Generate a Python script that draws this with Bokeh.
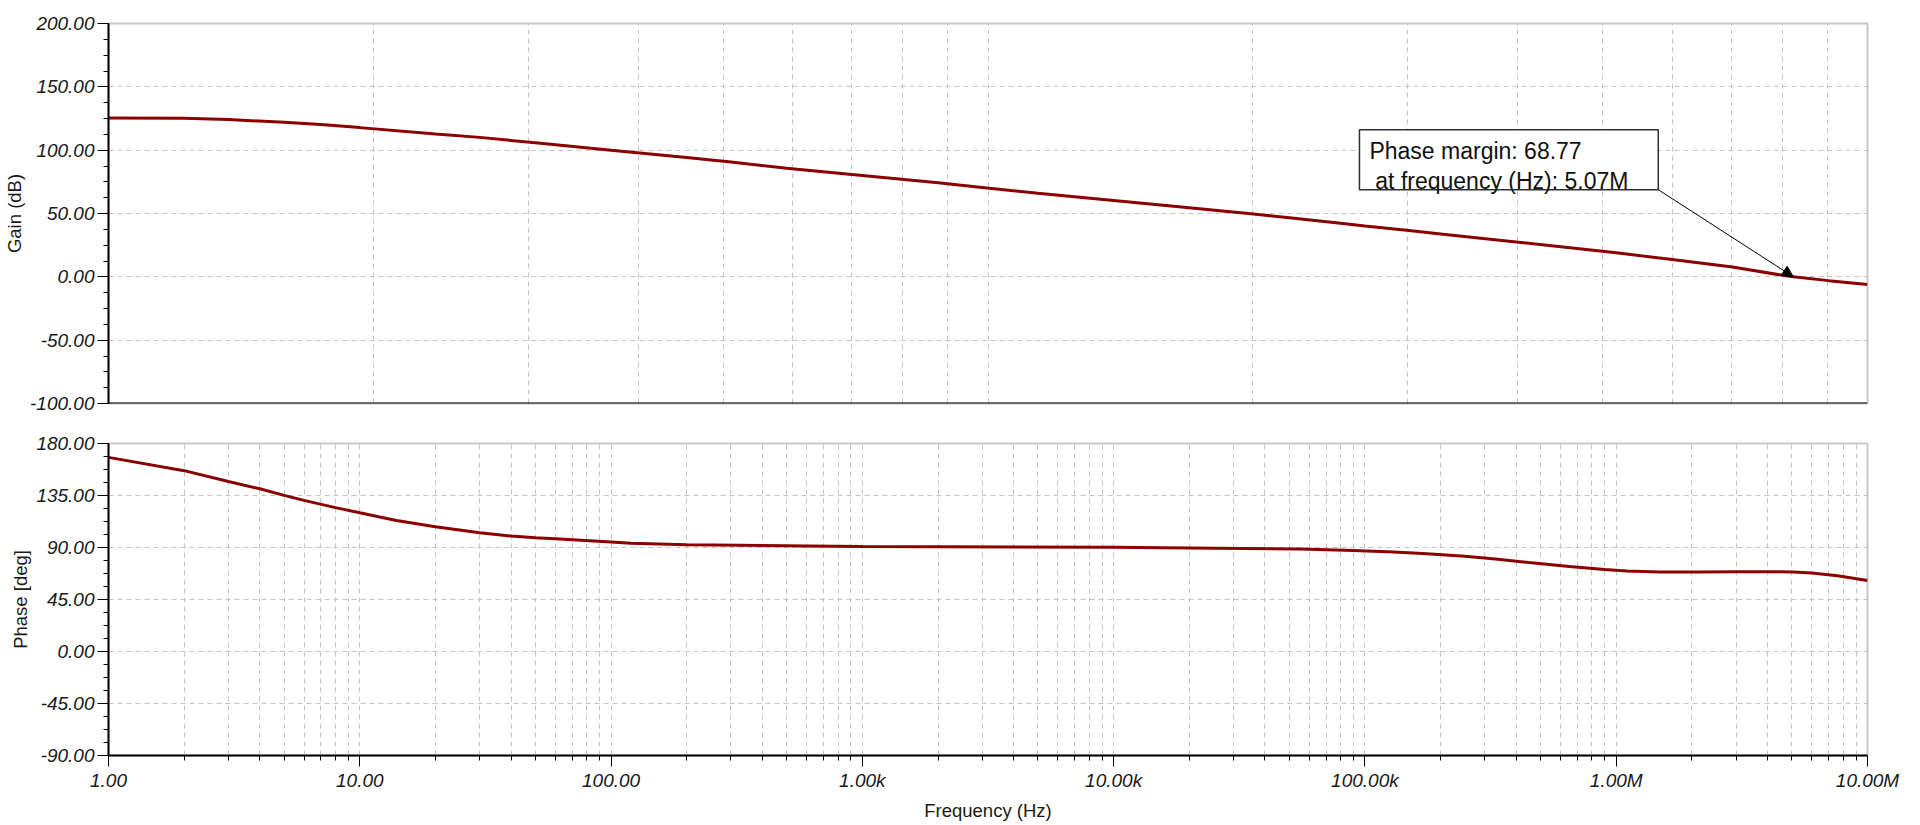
from bokeh.plotting import figure
from bokeh.layouts import column
from bokeh.models import (Range1d, FixedTicker, SingleIntervalTicker, NumeralTickFormatter,
                          CustomJSTickFormatter, BoxAnnotation, Label, Arrow, NormalHead, Span)
from bokeh.embed import file_html
from bokeh.resources import INLINE

# ---------------- data ----------------
gain_freq = [1, 2, 3, 5, 7, 10, 20, 30, 50, 100, 200, 300, 500, 1e3, 2e3, 3e3, 5e3,
             1e4, 2e4, 3.6e4, 5e4, 8e4, 1e5, 1.5e5, 2e5, 4e5, 1e6, 1.7e6, 2.9e6,
             4.6e6, 5.07e6, 7e6, 1e7]
gain_db = [125.4, 125.2, 124.2, 122.0, 120.3, 117.8, 112.7, 110.1, 105.8, 100.0, 94.3,
           90.6, 85.8, 80.0, 74.2, 70.6, 66.0, 60.3, 54.5, 49.6, 46.6, 42.3, 40.2, 36.5,
           33.9, 27.5, 19.0, 13.4, 7.8, 1.2, 0.0, -3.0, -6.0]

phase_freq = [1, 2, 3, 4, 5, 6, 8, 10, 12, 14, 20, 30, 40, 50, 60, 100, 120, 200, 600,
              1e3, 1e4, 2e4, 5.5e4, 9e4, 1.3e5, 1.7e5, 2.1e5, 2.5e5, 3.3e5, 4.5e5, 6.5e5,
              9e5, 1.1e6, 1.5e6, 2.1e6, 3e6, 4e6, 5.07e6, 6e6, 7.6e6, 1e7]
phase_deg = [168.0, 156.5, 147.1, 140.8, 135.1, 130.8, 124.5, 120.0, 116.4, 113.4, 107.9,
             102.7, 99.9, 98.4, 97.5, 94.7, 93.6, 92.4, 91.3, 90.8, 90.3, 89.6, 88.6, 87.4,
             86.0, 84.8, 83.6, 82.4, 80.0, 77.0, 73.6, 71.0, 69.6, 68.8, 68.8, 69.1, 69.1,
             68.77, 67.9, 65.6, 61.5]

x_major_ticks = [1, 10, 100, 1e3, 1e4, 1e5, 1e6, 1e7]
x_minor_ticks = [m * d for d in [1, 10, 100, 1e3, 1e4, 1e5, 1e6] for m in range(2, 10)]
# the gain pane's vertical grid is a 2-decade log grid stretched over the 7-decade axis
gain_grid_steps = list(range(2, 10)) + list(range(10, 100, 10))
gain_grid_ticks = [k ** 3.5 for k in gain_grid_steps]

pm_value = 68.77
pm_freq = 5.07e6
pm_gain = 0.0

FONT = "Liberation Sans"
TXT = "#1a1a1a"
TRACE = "#8b0000"
GRID = "#c4c4c4"


def style_axis(ax):
    ax.axis_line_color = "black"
    ax.axis_line_width = 2
    ax.major_tick_line_color = "black"
    ax.minor_tick_line_color = "black"
    ax.major_tick_in = 0
    ax.minor_tick_in = 0
    ax.major_tick_out = 11
    ax.minor_tick_out = 5
    ax.major_label_text_font = FONT
    ax.major_label_text_font_size = "19px"
    ax.major_label_text_font_style = "italic"
    ax.major_label_text_color = TXT
    ax.major_label_standoff = 3
    ax.axis_label_text_font = FONT
    ax.axis_label_text_font_size = "18.5px"
    ax.axis_label_text_font_style = "normal"
    ax.axis_label_text_color = TXT
    ax.axis_label_standoff = 2


def style(p):
    p.background_fill_color = "white"
    p.border_fill_color = "white"
    p.outline_line_color = "#c8c8c8"
    p.outline_line_width = 2
    for g in (p.xgrid[0], p.ygrid[0]):
        g.grid_line_color = GRID
        g.grid_line_dash = "5 4"
        g.grid_line_width = 1


# ---------------- gain pane ----------------
p1 = figure(width=1918, height=423, x_axis_type="log",
            x_range=Range1d(1, 1e7), y_range=Range1d(-100, 200),
            output_backend="svg", toolbar_location=None,
            min_border_left=108, min_border_right=51, min_border_top=23, min_border_bottom=20)
style(p1)
style_axis(p1.yaxis[0])
p1.yaxis.axis_label = "Gain (dB)"
p1.yaxis.ticker = SingleIntervalTicker(interval=50, num_minor_ticks=4)
p1.yaxis.formatter = NumeralTickFormatter(format="0.00")
p1.xaxis.ticker = FixedTicker(ticks=gain_grid_ticks, minor_ticks=[])
p1.xaxis.visible = False
p1.add_layout(Span(location=-100, dimension="width", line_color="black", line_width=2))
p1.line(gain_freq, gain_db, line_color=TRACE, line_width=3)

box = BoxAnnotation(left=9.51e4, right=1.47e6, bottom=68.8, top=116.1,
                    fill_color="white", fill_alpha=1.0, line_color="#303030", line_alpha=1.0,
                    line_width=1.5, level="overlay")
p1.add_layout(box)
p1.add_layout(Label(x=1.042e5, y=99.0, text=f"Phase margin: {pm_value:.2f}",
                    text_font=FONT, text_font_size="23px", text_color="#111111",
                    text_align="left", text_baseline="alphabetic", level="overlay"))
p1.add_layout(Label(x=1.10e5, y=75.4, text=f"at frequency (Hz): {pm_freq / 1e6:.2f}M",
                    text_font=FONT, text_font_size="23px", text_color="#111111",
                    text_align="left", text_baseline="alphabetic", level="overlay"))
p1.add_layout(Arrow(end=NormalHead(size=11, fill_color="black", line_color="black"),
                    x_start=1.47e6, y_start=68.8, x_end=pm_freq, y_end=pm_gain,
                    line_color="black", line_width=1, level="overlay"))

# ---------------- phase pane ----------------
p2 = figure(width=1918, height=400, x_axis_type="log",
            x_range=p1.x_range, y_range=Range1d(-90, 180),
            output_backend="svg", toolbar_location=None,
            min_border_left=108, min_border_right=51, min_border_top=20, min_border_bottom=66)
style(p2)
style_axis(p2.yaxis[0])
style_axis(p2.xaxis[0])
p2.yaxis.axis_label = "Phase [deg]"
p2.xaxis.axis_label = "Frequency (Hz)"
p2.yaxis.ticker = SingleIntervalTicker(interval=45, num_minor_ticks=4)
p2.yaxis.formatter = NumeralTickFormatter(format="0.00")
p2.xaxis.ticker = FixedTicker(ticks=x_major_ticks, minor_ticks=x_minor_ticks)
p2.xaxis.formatter = CustomJSTickFormatter(code="""
    const v = tick;
    if (v >= 1e6) return (v / 1e6).toFixed(2) + "M";
    if (v >= 1e3) return (v / 1e3).toFixed(2) + "k";
    return v.toFixed(2);
""")
p2.xaxis.major_label_text_align = "left"
p2.xaxis.axis_label_standoff = 6
p2.xgrid.minor_grid_line_color = GRID
p2.xgrid.minor_grid_line_dash = "5 4"
p2.xgrid.minor_grid_line_width = 1
p2.line(phase_freq, phase_deg, line_color=TRACE, line_width=3)

layout = column(p1, p2, spacing=0)
open("out.html", "w").write(file_html(layout, INLINE))
